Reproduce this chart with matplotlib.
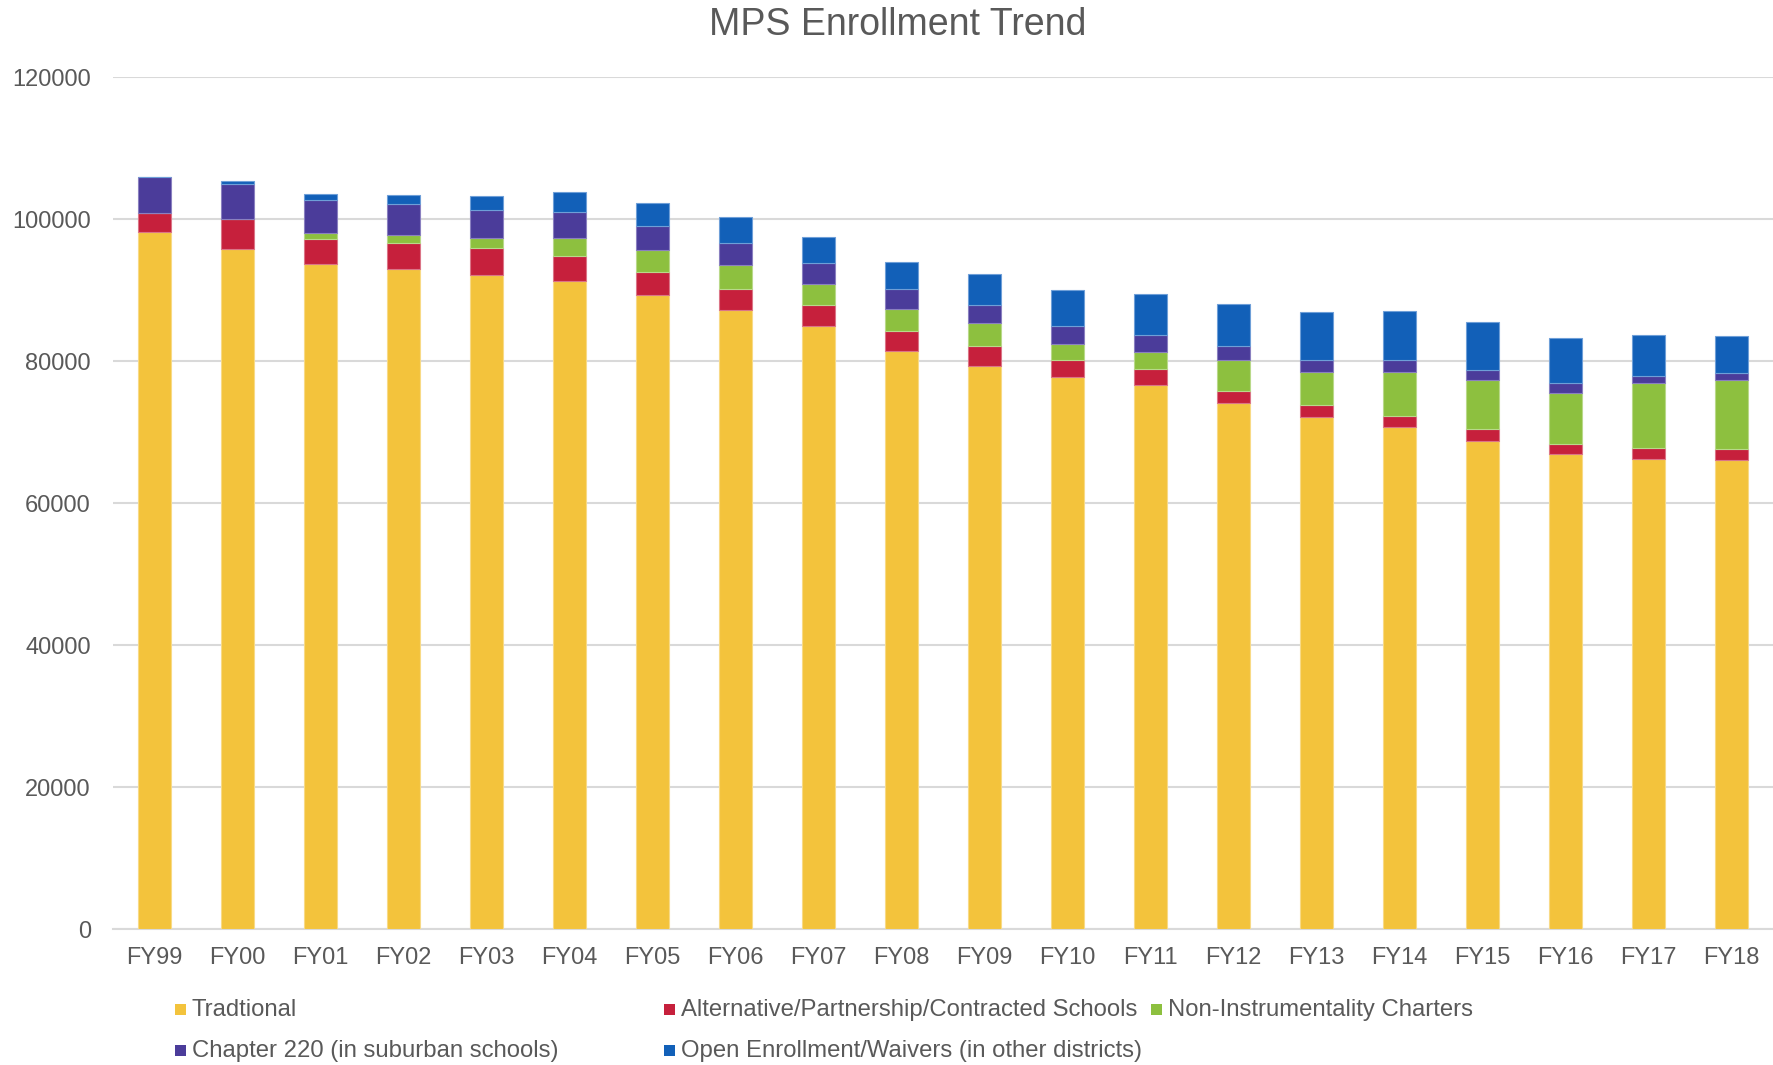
import matplotlib
matplotlib.use("Agg")
import matplotlib.pyplot as plt
from matplotlib.patches import Rectangle
import numpy as np

plt.rcParams['font.family'] = ['Liberation Sans', 'DejaVu Sans']

years = ["FY99", "FY00", "FY01", "FY02", "FY03", "FY04", "FY05", "FY06", "FY07", "FY08",
         "FY09", "FY10", "FY11", "FY12", "FY13", "FY14", "FY15", "FY16", "FY17", "FY18"]
traditional = [98170, 95730, 93620, 92920, 92070, 91220, 89250, 87230, 84890, 81370,
               79250, 77750, 76660, 74130, 72150, 70750, 68770, 66900, 66150, 66060]
alternative = [2630, 4230, 3560, 3660, 3800, 3610, 3330, 2950, 3040, 2860,
               2910, 2430, 2170, 1600, 1650, 1500, 1690, 1450, 1640, 1590]
charters = [0, 0, 850, 1120, 1410, 2490, 3010, 3300, 2960, 3090,
            3150, 2260, 2480, 4370, 4650, 6250, 6910, 7190, 9070, 9670]
chapter220 = [5160, 4940, 4650, 4370, 4030, 3620, 3380, 3100, 2870, 2780,
              2540, 2450, 2310, 1970, 1730, 1600, 1410, 1320, 970, 950]
open_enroll = [0, 450, 840, 1310, 1930, 2820, 3280, 3660, 3700, 3840,
               4360, 5110, 5770, 6000, 6720, 6900, 6670, 6380, 5790, 5250]

series_names = ["Tradtional", "Alternative/Partnership/Contracted Schools",
                "Non-Instrumentality Charters", "Chapter 220 (in suburban schools)",
                "Open Enrollment/Waivers (in other districts)"]
colors = ["#F3C33C", "#C6203C", "#8DC03F", "#4B3C9A", "#1260B8"]
edges = ["#F8DA86", "#DB7587", "#B9D98A", "#8A80C0", "#6E9FD8"]

W, H = 1773, 1065
fig = plt.figure(figsize=(W / 100, H / 100), dpi=100)
ax = fig.add_axes([113 / W, 1 - 929 / H, 1 - 113 / W, (929 - 77) / H])

x = np.arange(len(years))
data = [traditional, alternative, charters, chapter220, open_enroll]
bottom = np.zeros(len(years))
for vals, c, ec, name in zip(data, colors, edges, series_names):
    v = np.array(vals, dtype=float)
    ax.bar(x, v, width=0.40, bottom=bottom, color=c, edgecolor=ec, linewidth=0.8,
           label=name, zorder=3)
    bottom += v

ax.set_xlim(-0.5, len(years) - 0.5)
ax.set_ylim(0, 120000)
ax.set_yticks(np.arange(0, 120001, 20000))
ax.set_yticklabels([str(v) for v in range(0, 120001, 20000)])
ax.set_xticks(x)
ax.set_xticklabels(years)
ax.grid(axis='y', color='#D9D9D9', linewidth=1.5, zorder=0)
ax.set_axisbelow(True)
for s in ['top', 'right', 'left']:
    ax.spines[s].set_visible(False)
ax.spines['bottom'].set_color('#D9D9D9')
ax.spines['bottom'].set_linewidth(1.5)
ax.tick_params(axis='both', length=0, labelsize=17, colors='#595959')
ax.tick_params(axis='y', pad=16)
ax.tick_params(axis='x', pad=13)

fig.text(898 / W, 1 - 25 / H, "MPS Enrollment Trend", ha='center', va='center',
         fontsize=27, color='#595959')

# Legend (Excel-style layout: 3 entries on first row, 2 on second)
legend_pos = [(175, 1009), (664, 1009), (1151, 1009), (175, 1050), (664, 1050)]
for (px, py), c, name in zip(legend_pos, colors, series_names):
    fig.patches.append(Rectangle((px / W, 1 - (py + 5.5) / H), 10.5 / W, 11 / H,
                                 transform=fig.transFigure, facecolor=c, edgecolor='none'))
    fig.text((px + 17) / W, 1 - (py + 1) / H, name, ha='left', va='center',
             fontsize=17.2, color='#595959')

fig.savefig("out.png", dpi=100)
